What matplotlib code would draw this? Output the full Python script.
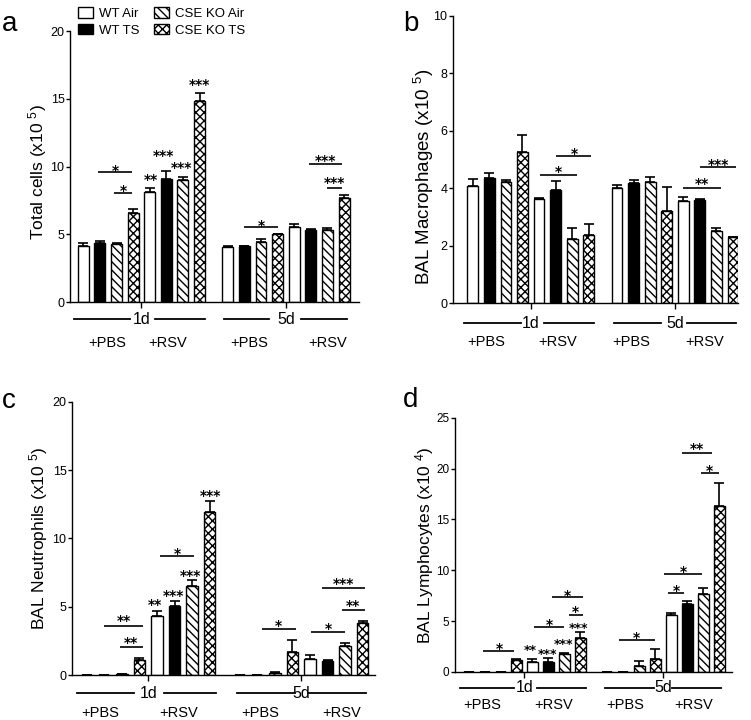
import numpy as np
import matplotlib
matplotlib.use("Agg")
import matplotlib.pyplot as plt
from matplotlib import font_manager, transforms

# ---------------- data ----------------
series = ["WT Air", "WT TS", "CSE KO Air", "CSE KO TS"]
groups = ["1d +PBS", "1d +RSV", "5d +PBS", "5d +RSV"]
days = ["1d", "5d"]
treatments = ["+PBS", "+RSV"]

# rows = groups, cols = series
total_mean = [[4.1, 4.35, 4.3, 6.55], [8.1, 9.1, 9.0, 14.85],
              [4.05, 4.1, 4.45, 5.0], [5.5, 5.3, 5.35, 7.7]]
total_err = [[0.25, 0.15, 0.05, 0.3], [0.3, 0.55, 0.25, 0.55],
             [0.08, 0.03, 0.2, 0.05], [0.25, 0.08, 0.12, 0.2]]

macro_mean = [[4.08, 4.36, 4.22, 5.27], [3.62, 3.94, 2.24, 2.38],
              [4.02, 4.18, 4.2, 3.19], [3.55, 3.59, 2.5, 2.28]]
macro_err = [[0.24, 0.15, 0.05, 0.58], [0.03, 0.29, 0.37, 0.37],
             [0.09, 0.1, 0.17, 0.85], [0.15, 0.03, 0.1, 0.03]]

neut_mean = [[0.0, 0.0, 0.07, 1.1], [4.34, 5.02, 6.54, 11.95],
             [0.03, 0.0, 0.12, 1.66], [1.2, 1.05, 2.15, 3.78]]
neut_err = [[0.0, 0.0, 0.02, 0.12], [0.34, 0.37, 0.44, 0.75],
            [0.0, 0.0, 0.08, 0.93], [0.24, 0.05, 0.22, 0.19]]

lymph_mean = [[0.0, 0.0, 0.0, 1.2], [0.95, 1.01, 1.8, 3.37],
              [0.0, 0.0, 0.62, 1.24], [5.56, 6.7, 7.66, 16.3]]
lymph_err = [[0.0, 0.0, 0.0, 0.12], [0.33, 0.4, 0.05, 0.59],
             [0.0, 0.0, 0.43, 1.05], [0.26, 0.24, 0.62, 2.25]]

# significance brackets: (x_start, x_end, line_height, label, label_height)
total_brackets = [(0.9, 2.94, 9.57, "*", 10.06), (1.86, 2.94, 8.02, "*", 8.59),
                  (9.7, 11.7, 5.5, "*", 5.99), (13.6, 15.6, 10.16, "***", 10.77),
                  (14.66, 15.6, 8.44, "***", 9.13)]
total_marks = [(4.1, 9.37, "**"), (4.85, 11.17, "***"), (5.9, 10.23, "***"), (7.0, 16.37, "***")]

macro_brackets = [(4.04, 6.3, 4.46, "*", 4.75), (5.05, 7.16, 5.12, "*", 5.37),
                  (12.7, 15.0, 4.0, "**", 4.32), (13.7, 15.9, 4.75, "***", 4.98)]
macro_marks = []

neut_brackets = [(1.0, 3.2, 3.59, "**", 4.34), (1.88, 3.2, 2.07, "**", 2.68),
                 (4.19, 6.08, 8.73, "*", 9.22), (9.96, 11.9, 3.37, "*", 3.93),
                 (12.75, 14.7, 3.17, "*", 3.73), (13.37, 15.83, 6.37, "***", 7.02),
                 (14.5, 15.83, 4.78, "**", 5.39)]
neut_marks = [(3.9, 5.49, "**"), (4.94, 6.12, "***"), (5.89, 7.63, "***"), (7.06, 13.5, "***")]

lymph_brackets = [(0.93, 2.87, 2.09, "*", 2.8), (4.07, 6.0, 4.45, "*", 5.14),
                  (6.26, 7.14, 5.6, "*", 6.38), (5.2, 7.14, 7.4, "*", 8.0),
                  (9.4, 11.66, 3.17, "*", 3.83), (12.48, 13.52, 7.72, "*", 8.44),
                  (12.27, 14.6, 9.59, "*", 10.3), (13.34, 15.26, 21.5, "**", 22.4),
                  (14.53, 15.67, 19.57, "*", 20.3)]
lymph_marks = [(3.88, 2.52, "**"), (4.96, 2.13, "***"), (5.92, 3.17, "***"), (6.89, 4.74, "***")]

# ---------------- style ----------------
names = {f.name for f in font_manager.fontManager.ttflist}
NARROW = "Liberation Sans Narrow" if "Liberation Sans Narrow" in names else "Liberation Sans"
plt.rcParams["font.family"] = [NARROW, "DejaVu Sans"]
plt.rcParams["hatch.linewidth"] = 1.0
plt.rcParams["mathtext.fontset"] = "custom"
plt.rcParams["mathtext.rm"] = "Liberation Sans"
plt.rcParams["mathtext.it"] = "Liberation Sans"

faces = ["white", "black", "white", "white"]
hatches = ["", "", "\\\\\\\\", "xxxx"]

W, H = 751, 720
fig = plt.figure(figsize=(W / 100, H / 100), dpi=100)


def ax_at(left, right, bottom_px, top_px):
    return fig.add_axes([left / W, 1 - bottom_px / H, (right - left) / W, (bottom_px - top_px) / H])


def draw_panel(ax, mean, err, ylim, yticks, ylabel, xlim, width, brackets, marks, lay):
    mean = np.array(mean)
    err = np.array(err)
    pos = np.array([g * 4 + s + (0.7 if g >= 2 else 0.0) for g in range(4) for s in range(4)]).reshape(4, 4)
    for s in range(4):
        ax.bar(pos[:, s], mean[:, s], width, color=faces[s], edgecolor="black", hatch=hatches[s],
               linewidth=1.0, label=series[s],
               yerr=[np.zeros(4), err[:, s]], capsize=3.5,
               error_kw=dict(elinewidth=1.2, capthick=1.2, ecolor="black"), zorder=2)
    ax.set_xlim(*xlim)
    ax.set_ylim(*ylim)
    ax.set_yticks(yticks)
    ax.set_yticklabels([str(t) for t in yticks], fontsize=lay.get("tfs", 9))
    ax.set_xticks([3.5, 12.2])
    ax.set_xticklabels([])
    ax.tick_params(axis="y", length=3, width=1, pad=1)
    ax.tick_params(axis="x", length=4, width=1)
    for sp in ["top", "right"]:
        ax.spines[sp].set_visible(False)
    for sp in ["left", "bottom"]:
        ax.spines[sp].set_linewidth(1.0)

    axw = ax.get_position().width * W
    hpx = ax.get_position().height * H
    ax.set_ylabel(ylabel, fontsize=lay["lfs"], family=["Liberation Sans", "DejaVu Sans"])
    ax.yaxis.label.set_verticalalignment("center")
    ax.yaxis.set_label_coords(-lay["ldist"] / axw, lay["ly"])

    sfs = lay.get("sfs", 10)
    for x1, x2, yl, lab, yt in brackets:
        ax.plot([x1, x2], [yl, yl], color="black", lw=1.2, solid_capstyle="butt", zorder=3)
        ax.annotate(lab, ((x1 + x2) / 2, yt), xytext=(0, -6.5), textcoords="offset points",
                    ha="center", va="baseline", fontsize=10, fontweight="bold", family="DejaVu Sans")
    for x, yt, lab in marks:
        ax.annotate(lab, (x, yt), xytext=(0, -0.65 * sfs), textcoords="offset points",
                    ha="center", va="baseline", fontsize=sfs, fontweight="bold", family="DejaVu Sans")

    # group annotations below the axis
    tr = transforms.blended_transform_factory(ax.transData, ax.transAxes)
    yline = -lay["line_px"] / hpx
    ylab = -lay["lab_px"] / hpx
    for (a, b) in lay["lines"]:
        ax.plot([a, b], [yline, yline], color="black", lw=1.3, transform=tr, clip_on=False)
    for d, xd in zip(days, [3.5, 12.2]):
        ax.text(xd, yline, d, transform=tr, ha="center", va="center", fontsize=11.5)
    for t, xt in zip(treatments * 2, lay["labels"]):
        ax.text(xt, ylab, t, transform=tr, ha="center", va="center", fontsize=10.5)


lay_a = dict(lines=[(-0.56, 2.8), (4.3, 7.3), (8.5, 11.2), (13.1, 15.9)],
             labels=[1.44, 5.1, 10.0, 14.7], line_px=17, lab_px=41,
             lfs=12.5, ldist=32, ly=0.478)
lay_b = dict(lines=[(-0.52, 2.94), (4.3, 7.32), (8.53, 11.35), (12.9, 15.87)],
             labels=[0.82, 5.15, 9.58, 14.0], line_px=20, lab_px=39,
             lfs=13.5, ldist=29, ly=0.44)
lay_c = dict(lines=[(-0.55, 2.67), (4.38, 7.37), (8.58, 11.86), (12.6, 15.9)],
             labels=[0.78, 5.23, 9.87, 14.5], line_px=18, lab_px=38,
             lfs=12.5, ldist=33, ly=0.5)
lay_d = dict(lines=[(-0.53, 2.87), (4.27, 7.35), (8.52, 11.6), (12.75, 15.78)],
             labels=[0.83, 5.32, 9.82, 14.1], line_px=16, lab_px=33,
             lfs=12.5, ldist=30, ly=0.5, sfs=9, tfs=8.5)

ax_a = ax_at(70, 359, 302, 31)
draw_panel(ax_a, total_mean, total_err, (0, 20), [0, 5, 10, 15, 20], "Total cells (x10 $^{5}$)",
           (-0.8, 16.6), 0.66, total_brackets, total_marks, lay_a)

ax_b = ax_at(453, 738, 303, 15.7)
draw_panel(ax_b, macro_mean, macro_err, (0, 10), [0, 2, 4, 6, 8, 10], "BAL Macrophages (x10 $^{5}$)",
           (-1.19, 16.0), 0.65, macro_brackets, macro_marks, lay_b)

ax_c = ax_at(72, 375, 675, 401.7)
draw_panel(ax_c, neut_mean, neut_err, (0, 20), [0, 5, 10, 15, 20], "BAL Neutrophils (x10 $^{5}$)",
           (-0.83, 16.4), 0.66, neut_brackets, neut_marks, lay_c)

ax_d = ax_at(455, 732, 672, 417.7)
draw_panel(ax_d, lymph_mean, lymph_err, (0, 25), [0, 5, 10, 15, 20, 25], "BAL Lymphocytes (x10 $^{4}$)",
           (-0.85, 16.5), 0.69, lymph_brackets, lymph_marks, lay_d)

# legend
handles, labels = ax_a.get_legend_handles_labels()
fig.legend(handles, labels, ncol=2, loc="upper left", bbox_to_anchor=(78 / W, 1 - 7 / H),
           frameon=False, fontsize=9.5, handlelength=1.15, handleheight=0.85, handletextpad=0.45,
           columnspacing=1.1, labelspacing=0.3, borderpad=0, borderaxespad=0)

# panel letters
for letter, (x, y) in zip("abcd", [(10, 24), (411, 24), (9, 401), (411, 400)]):
    fig.text(x / W, 1 - y / H, letter, ha="center", va="center", fontsize=20,
             family=["Liberation Sans", "DejaVu Sans"])

fig.savefig("out.png", dpi=100)
